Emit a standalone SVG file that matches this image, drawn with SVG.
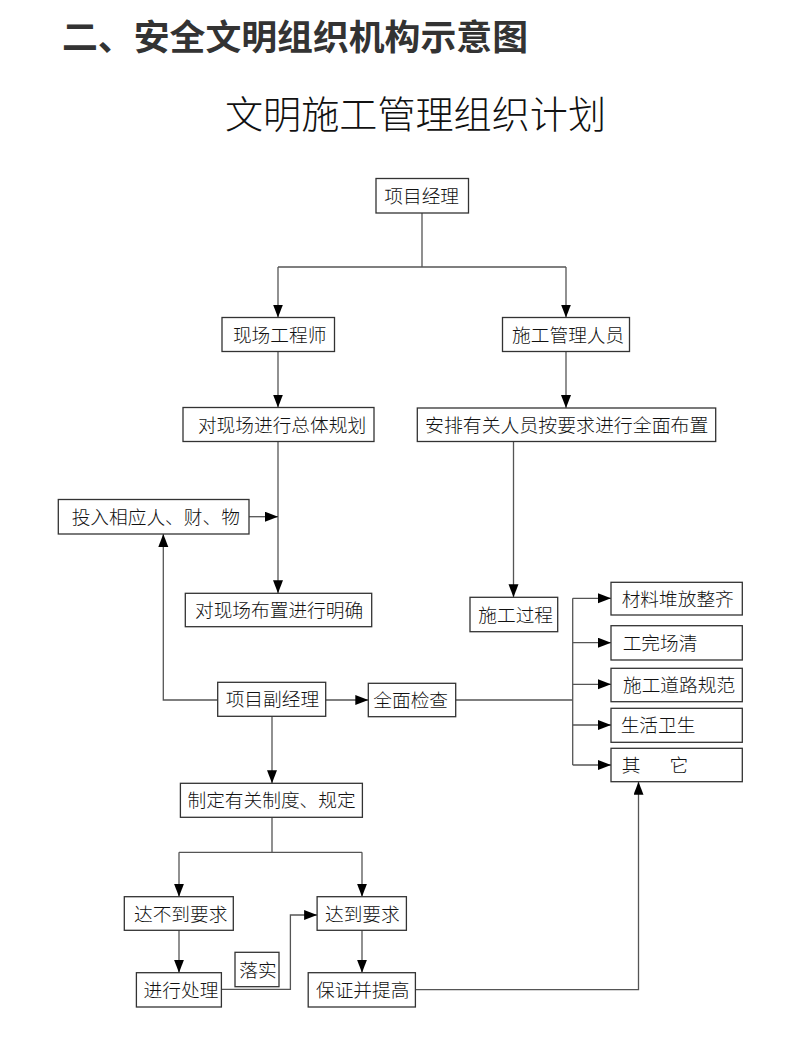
<svg xmlns="http://www.w3.org/2000/svg" width="808" height="1064" viewBox="0 0 808 1064">
<style>
.bx{fill:#fff;stroke:#333;stroke-width:1.3}
.t{font-family:"Noto Sans CJK SC","Noto Sans CJK JP",sans-serif;font-size:18.7px;fill:#111;font-weight:300}
.ln{fill:none;stroke:#555;stroke-width:1.3}
.ar{fill:none;stroke:#555;stroke-width:1.3;marker-end:url(#ah)}
.h1{font-family:"Noto Sans CJK SC",sans-serif;font-size:35px;font-weight:bold;fill:#333}
.h2{font-family:"Noto Sans CJK SC",sans-serif;font-size:38px;font-weight:300;fill:#111}
</style>
<defs>
<marker id="ah" markerUnits="userSpaceOnUse" markerWidth="14" markerHeight="11" refX="13" refY="5" orient="auto">
<path d="M0,0 L13,5 L0,10 z" fill="#000"/>
</marker>
</defs>
<rect width="808" height="1064" fill="#fff"/>
<text class="h1" x="62" y="50" textLength="466" lengthAdjust="spacingAndGlyphs">二、安全文明组织机构示意图</text>
<text class="h2" x="225" y="128" textLength="381" lengthAdjust="spacingAndGlyphs">文明施工管理组织计划</text>
<g id="connectors">
<path class="ln" d="M422,213 V267 M278,267 H566"/>
<path class="ar" d="M278,267 V317.5"/>
<path class="ar" d="M566,267 V317.5"/>
<path class="ar" d="M278,351.5 V407.5"/>
<path class="ar" d="M566,351.5 V408"/>
<path class="ar" d="M278,441.5 V593.3"/>
<path class="ar" d="M249,516.7 H278"/>
<path class="ar" d="M513.5,441.5 V597.3"/>
<path class="ar" d="M217.7,700 H163.3 V534"/>
<path class="ar" d="M325.7,700 H368.3"/>
<path class="ln" d="M455.7,700 H572.7 M572.7,598.3 V765"/>
<path class="ar" d="M572.7,598.3 H611"/>
<path class="ar" d="M572.7,642.7 H611"/>
<path class="ar" d="M572.7,684.3 H611"/>
<path class="ar" d="M572.7,725 H611"/>
<path class="ar" d="M572.7,765 H611"/>
<path class="ar" d="M272,716.3 V783.3"/>
<path class="ln" d="M272,817.3 V852.3 M179,852.3 H362"/>
<path class="ar" d="M179,852.3 V896.7"/>
<path class="ar" d="M362,852.3 V896.7"/>
<path class="ar" d="M179,930.3 V972.7"/>
<path class="ar" d="M362,930.3 V972.7"/>
<path class="ar" d="M221.4,989.3 H290.4 V915 H317.1"/>
<path class="ar" d="M415.4,989.7 H638.5 V781.7"/>
</g>
<g id="n-pm"><rect class="bx" x="376" y="178.5" width="92.5" height="34.5"/><text class="t" x="384.3" y="202.7">项目经理</text></g>
<g id="n-eng"><rect class="bx" x="222" y="317.5" width="112.5" height="34"/><text class="t" x="232.9" y="341.5">现场工程师</text></g>
<g id="n-mgr"><rect class="bx" x="502.5" y="317.5" width="127" height="34"/><text class="t" x="512.1" y="341.5">施工管理人员</text></g>
<g id="n-plan"><rect class="bx" x="183" y="407.5" width="191" height="34"/><text class="t" x="197.9" y="431.5">对现场进行总体规划</text></g>
<g id="n-arr"><rect class="bx" x="417.3" y="408" width="298.4" height="33.5"/><text class="t" x="425" y="431.8" textLength="283.3" lengthAdjust="spacingAndGlyphs">安排有关人员按要求进行全面布置</text></g>
<g id="n-res"><rect class="bx" x="58.3" y="499.5" width="190.7" height="34.5"/><text class="t" x="71.7" y="523.7">投入相应人、财、物</text></g>
<g id="n-clear"><rect class="bx" x="185.3" y="593.3" width="186.4" height="33.4"/><text class="t" x="195" y="617">对现场布置进行明确</text></g>
<g id="n-proc"><rect class="bx" x="470" y="597.3" width="87.7" height="34.4"/><text class="t" x="478.3" y="621.5">施工过程</text></g>
<g id="n-dpm"><rect class="bx" x="217.7" y="682.3" width="108" height="34"/><text class="t" x="225.7" y="706.3">项目副经理</text></g>
<g id="n-chk"><rect class="bx" x="368.3" y="683.3" width="87.4" height="33.4"/><text class="t" x="373.3" y="707">全面检查</text></g>
<g id="n-mat"><rect class="bx" x="611" y="582.3" width="131.3" height="32.7"/><text class="t" x="621.7" y="605.7">材料堆放整齐</text></g>
<g id="n-done"><rect class="bx" x="611" y="625.7" width="131.3" height="34.3"/><text class="t" x="622.7" y="649.8">工完场清</text></g>
<g id="n-road"><rect class="bx" x="611" y="668.3" width="131.3" height="33.4"/><text class="t" x="623" y="692">施工道路规范</text></g>
<g id="n-life"><rect class="bx" x="611" y="708.3" width="131.3" height="34"/><text class="t" x="620.7" y="732.3">生活卫生</text></g>
<g id="n-other"><rect class="bx" x="611" y="748.3" width="131.3" height="33.4"/><text class="t" x="621.7" y="772" textLength="66.6" lengthAdjust="spacing">其　它</text></g>
<g id="n-rule"><rect class="bx" x="180.4" y="783.3" width="182" height="34"/><text class="t" x="187.5" y="807.3">制定有关制度、规定</text></g>
<g id="n-fail"><rect class="bx" x="124.3" y="896.7" width="109" height="33.6"/><text class="t" x="134" y="920.5">达不到要求</text></g>
<g id="n-pass"><rect class="bx" x="317.1" y="896.7" width="89.3" height="33.6"/><text class="t" x="325" y="920.5">达到要求</text></g>
<g id="n-impl"><rect class="bx" x="235" y="952.3" width="44" height="34.4"/><text class="t" x="239.3" y="976.5">落实</text></g>
<g id="n-handle"><rect class="bx" x="136.4" y="972.7" width="85" height="34.3"/><text class="t" x="143.6" y="996.8">进行处理</text></g>
<g id="n-ens"><rect class="bx" x="308.2" y="972.7" width="107.2" height="34.3"/><text class="t" x="316" y="996.8">保证并提高</text></g>
</svg>
